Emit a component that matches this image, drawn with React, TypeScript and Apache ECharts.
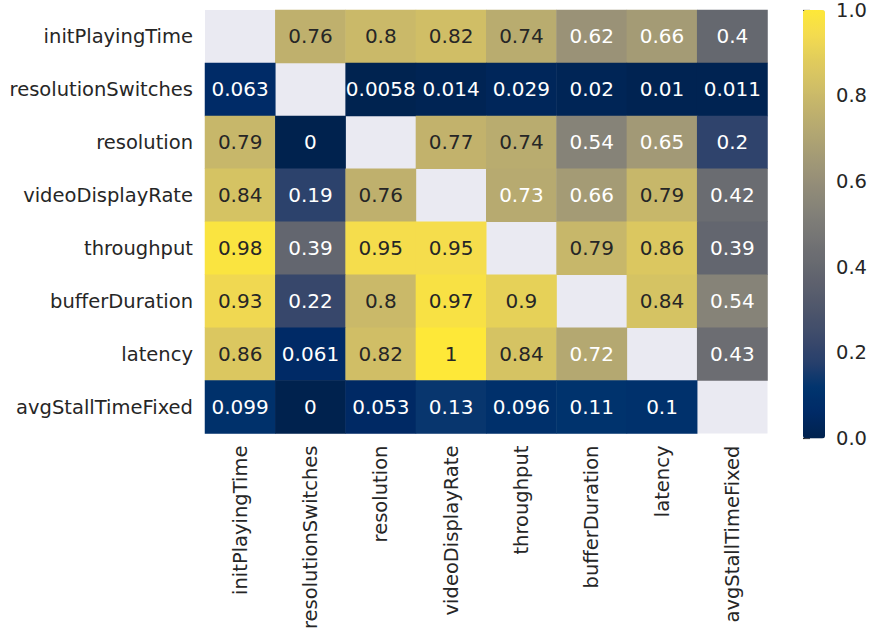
import React, { useEffect, useRef } from "react";
import * as echarts from "echarts";

const labels = [
  "initPlayingTime",
  "resolutionSwitches",
  "resolution",
  "videoDisplayRate",
  "throughput",
  "bufferDuration",
  "latency",
  "avgStallTimeFixed",
];

// null = diagonal (masked)
const rowInitPlayingTime = [null, 0.76, 0.8, 0.82, 0.74, 0.62, 0.66, 0.4];
const rowResolutionSwitches = [0.063, null, 0.0058, 0.014, 0.029, 0.02, 0.01, 0.011];
const rowResolution = [0.79, 0, null, 0.77, 0.74, 0.54, 0.65, 0.2];
const rowVideoDisplayRate = [0.84, 0.19, 0.76, null, 0.73, 0.66, 0.79, 0.42];
const rowThroughput = [0.98, 0.39, 0.95, 0.95, null, 0.79, 0.86, 0.39];
const rowBufferDuration = [0.93, 0.22, 0.8, 0.97, 0.9, null, 0.84, 0.54];
const rowLatency = [0.86, 0.061, 0.82, 1, 0.84, 0.72, null, 0.43];
const rowAvgStallTimeFixed = [0.099, 0, 0.053, 0.13, 0.096, 0.11, 0.1, null];

const rows = [
  rowInitPlayingTime,
  rowResolutionSwitches,
  rowResolution,
  rowVideoDisplayRate,
  rowThroughput,
  rowBufferDuration,
  rowLatency,
  rowAvgStallTimeFixed,
];

const colorbarTicks = [0, 0.2, 0.4, 0.6, 0.8, 1.0];

const cividis = [
  "#00224e",
  "#002a66",
  "#00346e",
  "#273f6c",
  "#3c4a6b",
  "#4c556b",
  "#5b5f6d",
  "#686a70",
  "#757575",
  "#838178",
  "#928c78",
  "#a19876",
  "#b0a572",
  "#c0b16d",
  "#d1bf66",
  "#e1cc5c",
  "#f3db4f",
  "#fee838",
];

const FONT = "DejaVu Sans";
const TXT = "#262626";

export default function App() {
  const ref = useRef<HTMLDivElement>(null);
  useEffect(() => {
    if (!ref.current) return;
    const chart = echarts.init(ref.current, undefined, { renderer: "svg" });
    const data: any[] = [];
    rows.forEach((row, y) => {
      row.forEach((v, x) => {
        if (v === null) return;
        data.push({
          value: [x, y, v],
          label: { color: (v as number) >= 0.735 ? TXT : "#ffffff" },
        });
      });
    });
    chart.setOption({
      animation: false,
      backgroundColor: "#ffffff",
      grid: [
        {
          left: 205,
          top: 10,
          width: 562.5,
          height: 428.5,
          show: true,
          backgroundColor: "#eaeaf2",
          borderWidth: 0,
        },
        { left: 803, top: 10, width: 22, height: 428.5 },
      ],
      xAxis: [
        {
          type: "category",
          gridIndex: 0,
          data: labels,
          position: "bottom",
          axisLine: { show: false },
          axisTick: { show: false },
          splitLine: { show: false },
          axisLabel: {
            rotate: 90,
            margin: 12,
            interval: 0,
            fontFamily: FONT,
            fontSize: 19.5,
            color: TXT,
          },
        },
        {
          type: "value",
          gridIndex: 1,
          show: false,
        },
      ],
      yAxis: [
        {
          type: "category",
          gridIndex: 0,
          data: labels,
          inverse: true,
          axisLine: { show: false },
          axisTick: { show: false },
          splitLine: { show: false },
          axisLabel: {
            margin: 12,
            interval: 0,
            fontFamily: FONT,
            fontSize: 19.5,
            color: TXT,
          },
        },
        {
          type: "value",
          gridIndex: 1,
          position: "right",
          min: 0,
          max: 1,
          interval: 0.2,
          axisLine: { show: false },
          axisTick: { show: true, length: 7, lineStyle: { color: TXT, width: 1.2 } },
          splitLine: { show: false },
          axisLabel: {
            margin: 12,
            fontFamily: FONT,
            fontSize: 19.5,
            color: TXT,
            formatter: (v: number) =>
              colorbarTicks.some((t) => Math.abs(t - v) < 1e-9) ? v.toFixed(1) : "",
          },
        },
      ],
      visualMap: {
        type: "continuous",
        seriesIndex: 0,
        min: 0,
        max: 1,
        calculable: false,
        hoverLink: false,
        show: true,
        left: 803,
        top: 10,
        padding: 0,
        itemWidth: 22,
        itemHeight: 428.5,
        text: ["", ""],
        textGap: 0,
        showLabel: false,
        inRange: { color: cividis },
      },
      series: [
        {
          type: "heatmap",
          xAxisIndex: 0,
          yAxisIndex: 0,
          data,
          label: {
            show: true,
            fontFamily: FONT,
            fontSize: 20,
            formatter: (p: any) => String(p.value[2]),
          },
          itemStyle: { borderWidth: 0 },
          emphasis: { disabled: true },
        },
      ],
    });
    return () => chart.dispose();
  }, []);
  return (
    <div
      ref={ref}
      style={{ position: "fixed", left: 0, top: 0, width: 870, height: 632 }}
    />
  );
}
